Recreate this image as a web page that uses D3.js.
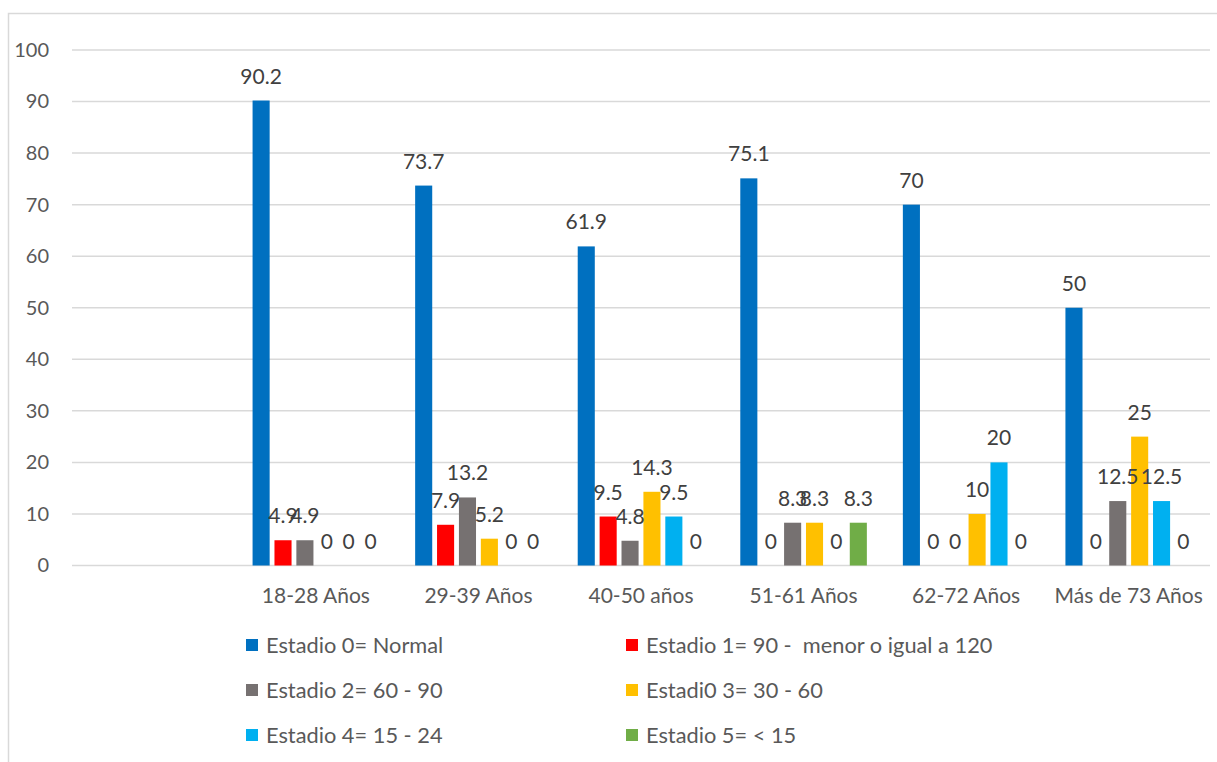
<!DOCTYPE html>
<html>
<head>
<meta charset="utf-8">
<script src="https://cdn.jsdelivr.net/npm/d3@7/dist/d3.min.js"></script>
<style>
  html, body { margin: 0; padding: 0; background: #fff; }
  svg { display: block; font-family: Lato, "Open Sans", sans-serif; }
</style>
</head>
<body>
<svg id="chart" width="1217" height="762"></svg>
<script>
// Age groups (the first slot is left blank on purpose)
const categories = ["", "18-28 Años", "29-39 Años", "40-50 años", "51-61 Años", "62-72 Años", "Más de 73 Años"];

const seriesNames = [
  "Estadio 0= Normal",
  "Estadio 1= 90 -  menor o igual a 120",
  "Estadio 2= 60 - 90",
  "Estadi0 3= 30 - 60",
  "Estadio 4= 15 - 24",
  "Estadio 5= < 15"
];
const seriesColors = ["#0070C0", "#FF0000", "#767171", "#FFC000", "#00B0F0", "#70AD47"];

// Percentages per stage, one value per age group
const estadio0 = [null, 90.2, 73.7, 61.9, 75.1, 70, 50];
const estadio1 = [null, 4.9, 7.9, 9.5, 0, 0, 0];
const estadio2 = [null, 4.9, 13.2, 4.8, 8.3, 0, 12.5];
const estadio3 = [null, 0, 5.2, 14.3, 8.3, 10, 25];
const estadio4 = [null, 0, 0, 9.5, 0, 20, 12.5];
const estadio5 = [null, 0, 0, 0, 8.3, 0, 0];

const yTicks = [0, 10, 20, 30, 40, 50, 60, 70, 80, 90, 100];

const seriesValues = [estadio0, estadio1, estadio2, estadio3, estadio4, estadio5];

const svg = d3.select("#chart");
const FONT = "Lato, 'Open Sans', sans-serif";

// Chart area border (light gray, left and top edges visible)
svg.append("rect")
  .attr("x", 8.5).attr("y", 13.5)
  .attr("width", 1240).attr("height", 800)
  .attr("fill", "none").attr("stroke", "#d9d9d9").attr("stroke-width", 1.5);

const plot = { left: 72, right: 1210, top: 50, bottom: 565.5 };

const x0 = d3.scaleBand().domain(categories.map((c, i) => i))
  .range([plot.left, plot.right]).padding(0);
const x1 = d3.scaleBand().domain(d3.range(seriesNames.length))
  .range([18, x0.bandwidth() - 18]).paddingInner(0.22).paddingOuter(0);
const y = d3.scaleLinear().domain([0, 100]).range([plot.bottom, plot.top]);

// Gridlines
svg.append("g")
  .selectAll("line").data(yTicks).join("line")
  .attr("x1", plot.left).attr("x2", plot.right)
  .attr("y1", d => y(d)).attr("y2", d => y(d))
  .attr("stroke", "#d9d9d9").attr("stroke-width", 1.5);

// Y axis labels
const yAxis = d3.axisLeft(y).tickValues(yTicks).tickSize(0).tickPadding(0);
const gy = svg.append("g").attr("transform", "translate(49,0)").call(yAxis);
gy.select(".domain").remove();
gy.selectAll("text")
  .attr("fill", "#595959").style("font-size", "20px")
  .style("font-family", FONT);

// X axis labels
const xAxis = d3.axisBottom(x0).tickFormat(i => categories[i]).tickSize(0).tickPadding(0);
const gx = svg.append("g").attr("transform", `translate(0,${plot.bottom + 23})`).call(xAxis);
gx.select(".domain").remove();
gx.selectAll("text")
  .attr("fill", "#595959").style("font-size", "21px")
  .style("font-family", FONT);

// Bars and value labels
const flat = [];
seriesValues.forEach((vals, s) => {
  vals.forEach((v, c) => { if (v !== null) flat.push({ s, c, v }); });
});

svg.append("g").selectAll("rect").data(flat).join("rect")
  .attr("x", d => x0(d.c) + x1(d.s))
  .attr("width", x1.bandwidth())
  .attr("y", d => y(d.v))
  .attr("height", d => y(0) - y(d.v))
  .attr("fill", d => seriesColors[d.s]);

svg.append("g").selectAll("text").data(flat).join("text")
  .attr("x", d => x0(d.c) + x1(d.s) + x1.bandwidth() / 2)
  .attr("y", d => y(d.v) - 17)
  .attr("text-anchor", "middle")
  .attr("fill", "#404040")
  .style("font-size", "21px")
  .text(d => d.v);

// Legend, two columns, three rows
const legendCols = [246, 626];
const legendRows = [645, 690, 735];
const lg = svg.append("g").selectAll("g").data(seriesNames).join("g")
  .attr("transform", (d, i) => `translate(${legendCols[i % 2]},${legendRows[Math.floor(i / 2)]})`);
lg.append("rect").attr("x", 0).attr("y", -6).attr("width", 12).attr("height", 12)
  .attr("fill", (d, i) => seriesColors[i]);
lg.append("text").attr("x", 20).attr("y", 0).attr("dy", "0.35em")
  .attr("fill", "#595959").style("font-size", "21.8px")
  .style("white-space", "pre")
  .text(d => d);
</script>
</body>
</html>
